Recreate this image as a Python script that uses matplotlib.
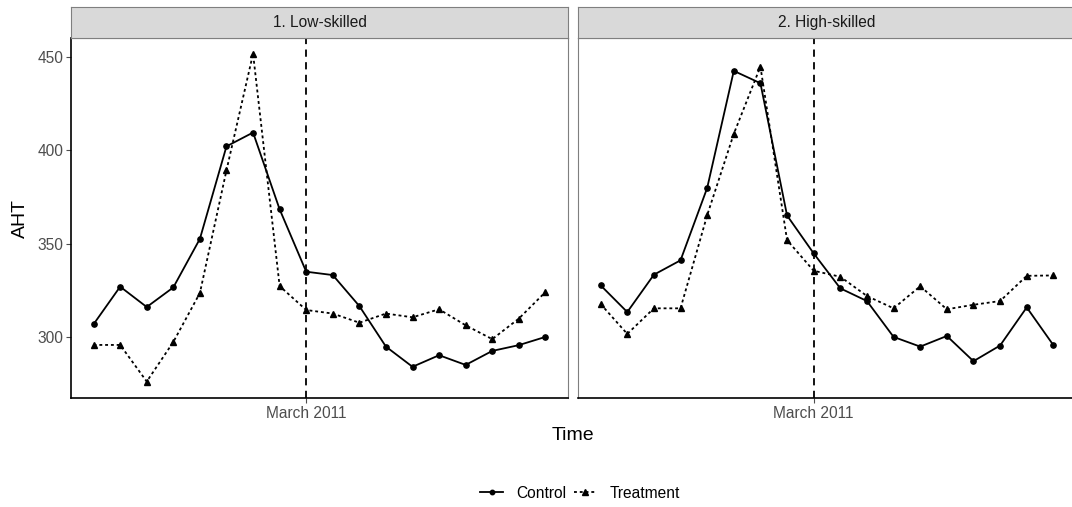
import matplotlib
matplotlib.use("Agg")
from matplotlib import pyplot as plt
from matplotlib.lines import Line2D

plt.rcParams['font.family'] = ['Liberation Sans', 'DejaVu Sans']

# 18 months around March 2011 (index 8)
months = list(range(18))
march_idx = 8

low_control = [306.8, 326.9, 316.0, 326.5, 352.5, 402.0, 409.4, 368.3, 334.9,
               333.1, 316.5, 294.8, 284.0, 290.2, 285.0, 292.5, 295.6, 300.0]
low_treatment = [295.7, 295.7, 276.1, 297.3, 323.5, 389.2, 451.6, 327.2, 314.4,
                 312.5, 307.6, 312.5, 310.5, 314.8, 306.2, 298.8, 309.8, 324.0]
high_control = [327.6, 313.3, 333.3, 341.0, 379.7, 442.4, 435.8, 365.0, 344.7,
                326.0, 319.2, 300.0, 294.8, 300.5, 287.0, 295.4, 315.8, 295.6]
high_treatment = [317.6, 301.6, 315.3, 315.3, 365.1, 408.7, 444.7, 351.8, 335.4,
                  332.2, 321.9, 315.3, 327.1, 314.8, 317.2, 319.2, 332.7, 332.9]

panels = [("1. Low-skilled", low_control, low_treatment),
          ("2. High-skilled", high_control, high_treatment)]

W, H = 1072, 507
fig = plt.figure(figsize=(W / 100, H / 100), dpi=100)

# panel boxes in pixels: (left, right)
boxes = [(71, 568), (578, 1076)]
top, bottom, strip_top = 38, 398, 7

tick_col = "#4D4D4D"
fs = 11.2
for k, ((title, ctrl, trt), (x0, x1)) in enumerate(zip(panels, boxes)):
    ax = fig.add_axes([x0 / W, 1 - bottom / H, (x1 - x0) / W, (bottom - top) / H])
    ax.plot(months, ctrl, color="black", lw=1.3, ls="-", marker="o", ms=3.8)
    ax.plot(months, trt, color="black", lw=1.3, ls=(0, (1.6, 1.6)), marker="^", ms=4.8)
    ax.axvline(march_idx, color="black", lw=1.3, ls=(0, (4, 3)))
    ax.set_xlim(-0.85, 17.85)
    ax.set_ylim(267.3, 460.0)
    ax.set_xticks([march_idx])
    ax.set_xticklabels(["March 2011"])
    ax.set_yticks([300, 350, 400, 450])
    ax.tick_params(colors=tick_col, labelsize=fs, length=3.5, width=0.8, pad=2)
    ax.tick_params(axis="both", labelcolor=tick_col)
    for s in ax.spines.values():
        s.set_color("#7F7F7F")
        s.set_linewidth(0.8)
    ax.spines["bottom"].set_color("black")
    ax.spines["bottom"].set_linewidth(1.2)
    if k == 0:
        ax.spines["left"].set_color("black")
        ax.spines["left"].set_linewidth(1.2)
    else:
        ax.tick_params(axis="y", left=False, labelleft=False)

    # strip above each panel
    sax = fig.add_axes([x0 / W, 1 - top / H, (x1 - x0) / W, (top - strip_top) / H])
    sax.set_facecolor("#D9D9D9")
    sax.set_xticks([])
    sax.set_yticks([])
    for s in sax.spines.values():
        s.set_color("#7F7F7F")
        s.set_linewidth(0.8)
    sax.text(0.5, 0.5, title, ha="center", va="center", fontsize=fs,
             color="#1A1A1A", transform=sax.transAxes)

fig.text(20 / W, 1 - 218 / H, "AHT", ha="center", va="center", rotation=90,
         fontsize=14)
fig.text(573 / W, 1 - 436 / H, "Time", ha="center", va="center", fontsize=14)

handles = [Line2D([], [], color="black", lw=1.3, ls="-", marker="o", ms=3.2),
           Line2D([], [], color="black", lw=1.3, ls=(0, (1.6, 1.6)), marker="^", ms=4.2)]
fig.legend(handles, ["Control", "Treatment"], loc="center",
           bbox_to_anchor=(580 / W, 1 - 493 / H), ncol=2, frameon=False,
           fontsize=fs, handlelength=1.5, columnspacing=0.5, handletextpad=0.8)

fig.savefig("out.png", dpi=100)
